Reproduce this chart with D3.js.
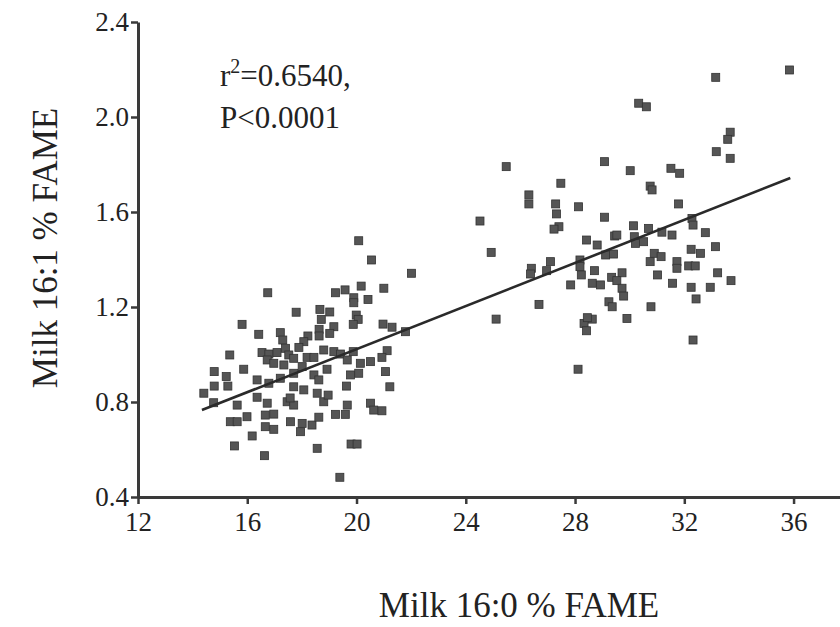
<!DOCTYPE html>
<html>
<head>
<meta charset="utf-8">
<script src="https://cdn.jsdelivr.net/npm/d3@7"></script>
<style>
  body { margin: 0; background: #fff; }
  svg { display: block; font-family: "Liberation Serif", "DejaVu Serif", serif; }
</style>
</head>
<body>
<svg id="chart"></svg>
<script>
// Milk 16:0 (% FAME) vs Milk 16:1 (% FAME)
const milk160 = [
  20.08, 20.55, 20.17, 20.42, 16.75, 19.23, 19.58, 19.90, 19.90, 17.79,
  18.66, 19.02, 18.71, 19.99, 20.06, 19.88, 15.81, 19.17, 19.02, 18.63,
  18.63, 16.42, 17.21, 17.30, 18.22, 18.07, 17.89, 17.40, 16.54, 16.79,
  17.09, 17.52, 17.70, 18.19, 18.44, 18.80, 19.17, 19.41, 19.88, 19.66,
  15.36, 16.73, 16.97, 17.34, 20.14, 20.51, 15.87, 14.79, 15.23, 14.79,
  15.29, 14.41, 14.77, 15.63, 16.36, 16.79, 17.21, 17.70, 18.01, 18.44,
  18.62, 17.70, 18.07, 18.56, 17.46, 17.70, 18.80, 16.36, 16.73, 15.99,
  15.38, 15.63, 16.66, 16.97, 16.66, 16.97, 17.58, 18.01, 18.37, 17.95,
  18.62, 19.23, 19.59, 19.66, 19.63, 18.92, 19.78, 20.08, 20.51, 20.63,
  16.18, 15.53, 16.63, 18.56, 19.80, 19.39, 20.02, 17.57, 18.96,
  25.48, 29.08, 27.48, 26.31, 26.31, 27.29, 27.32, 28.13, 29.08, 24.52,
  27.41, 27.23, 24.93, 28.42, 28.81, 29.12, 27.10, 26.40, 26.37, 26.96,
  28.18, 28.18, 28.23, 28.71, 27.84, 28.63, 28.93, 29.34, 22.01, 21.00,
  26.68, 29.24, 29.36, 25.11, 28.63, 28.33, 20.97, 21.30, 29.45, 21.79,
  28.42, 21.12, 20.93, 21.06, 21.22, 20.93, 28.11, 28.45,
  33.15, 35.85, 30.33, 30.61, 33.68, 33.59, 33.17, 33.68, 30.02, 31.51,
  31.83, 30.75, 30.82, 31.79, 30.14, 30.69, 32.28, 32.32, 29.53, 30.17,
  31.18, 31.55, 32.77, 30.21, 30.51, 33.14, 32.25, 32.59, 29.41, 30.90,
  31.15, 30.75, 31.73, 31.73, 32.16, 32.40, 33.22, 33.71, 29.72, 29.53,
  29.72, 29.78, 31.02, 31.57, 32.25, 32.95, 32.43, 30.78, 29.90, 32.32
];
const milk161 = [
  1.479, 1.398, 1.288, 1.232, 1.260, 1.260, 1.272, 1.239, 1.218, 1.178,
  1.190, 1.179, 1.148, 1.166, 1.148, 1.127, 1.127, 1.117, 1.089, 1.106,
  1.078, 1.085, 1.092, 1.061, 1.078, 1.054, 1.030, 1.026, 1.008, 1.002,
  1.008, 0.998, 0.984, 0.988, 0.988, 1.019, 1.012, 1.002, 1.012, 0.977,
  0.998, 0.977, 0.963, 0.956, 0.963, 0.970, 0.938, 0.928, 0.907, 0.867,
  0.867, 0.837, 0.797, 0.787, 0.893, 0.879, 0.900, 0.921, 0.949, 0.914,
  0.893, 0.864, 0.851, 0.837, 0.801, 0.787, 0.801, 0.820, 0.795, 0.738,
  0.717, 0.717, 0.745, 0.749, 0.696, 0.685, 0.717, 0.710, 0.703, 0.675,
  0.736, 0.748, 0.748, 0.787, 0.867, 0.938, 0.914, 0.921, 0.795, 0.766,
  0.657, 0.615, 0.574, 0.605, 0.623, 0.483, 0.623, 0.817, 0.829,
  1.791, 1.812, 1.721, 1.672, 1.634, 1.634, 1.592, 1.622, 1.578, 1.562,
  1.538, 1.528, 1.430, 1.482, 1.461, 1.419, 1.391, 1.363, 1.339, 1.353,
  1.398, 1.370, 1.335, 1.353, 1.293, 1.300, 1.293, 1.325, 1.342, 1.279,
  1.211, 1.222, 1.201, 1.149, 1.149, 1.131, 1.128, 1.115, 1.499, 1.096,
  1.100, 1.016, 0.988, 0.928, 0.864, 0.763, 0.938, 1.155,
  2.167, 2.198, 2.058, 2.043, 1.936, 1.906, 1.854, 1.826, 1.774, 1.784,
  1.763, 1.709, 1.693, 1.634, 1.542, 1.531, 1.573, 1.545, 1.503, 1.496,
  1.515, 1.503, 1.513, 1.468, 1.475, 1.454, 1.443, 1.426, 1.423, 1.426,
  1.412, 1.391, 1.391, 1.363, 1.373, 1.373, 1.344, 1.311, 1.344, 1.311,
  1.279, 1.246, 1.335, 1.300, 1.283, 1.283, 1.234, 1.201, 1.152, 1.061
];
// regression line end points
const fitX = [14.34, 35.88];
const fitY = [0.766, 1.743];

const xTicks = [12, 16, 20, 24, 28, 32, 36];
const yTicks = [0.4, 0.8, 1.2, 1.6, 2.0, 2.4];
const statText = ["r", "=0.6540,", "P<0.0001"];

const width = 840, height = 627;
const ink = "#3a3a3a";

const svg = d3.select("#chart")
  .attr("width", width)
  .attr("height", height);

const x = d3.scaleLinear().domain([12, 37.7]).range([138, 840]);
const y = d3.scaleLinear().domain([0.4, 2.4]).range([497, 22]);

const pts = milk160.map((d, i) => ({ x: d, y: milk161[i] }));

// points
svg.append("g")
  .selectAll("rect")
  .data(pts).enter()
  .append("rect")
  .attr("x", d => x(d.x) - 4)
  .attr("y", d => y(d.y) - 4)
  .attr("width", 8)
  .attr("height", 8)
  .attr("fill", "#555")
  .attr("stroke", "#333")
  .attr("stroke-width", 0.8);

// fit line
svg.append("line")
  .attr("x1", x(fitX[0])).attr("y1", y(fitY[0]))
  .attr("x2", x(fitX[1])).attr("y2", y(fitY[1]))
  .attr("stroke", "#2a2a2a")
  .attr("stroke-width", 2.6);

// axes
const xAxis = d3.axisBottom(x)
  .tickValues(xTicks)
  .tickSizeInner(7)
  .tickSizeOuter(0)
  .tickPadding(5);
const yAxis = d3.axisLeft(y)
  .tickValues(yTicks)
  .tickFormat(d3.format(".1f"))
  .tickSizeInner(7)
  .tickSizeOuter(0)
  .tickPadding(2);

const gx = svg.append("g")
  .attr("transform", `translate(0,${y(0.4)})`)
  .call(xAxis);
const gy = svg.append("g")
  .attr("transform", `translate(${x(12)},0)`)
  .call(yAxis);

[gx, gy].forEach(g => {
  g.select(".domain").attr("stroke", ink).attr("stroke-width", 3);
  g.selectAll(".tick line").attr("stroke", ink).attr("stroke-width", 2.5);
  g.selectAll(".tick text")
    .attr("fill", "#222")
    .style("font-family", "'Liberation Serif', serif")
    .style("font-size", "27px");
});
gx.selectAll(".tick text").attr("dy", "0.8em");

// axis titles
svg.append("text")
  .attr("x", 519)
  .attr("y", 617)
  .attr("text-anchor", "middle")
  .attr("fill", "#222")
  .style("font-size", "35px")
  .text("Milk 16:0 % FAME");

svg.append("text")
  .attr("transform", `translate(57,248) rotate(-90)`)
  .attr("text-anchor", "middle")
  .attr("fill", "#222")
  .style("font-size", "35px")
  .text("Milk 16:1 % FAME");

// stats annotation
const ann = svg.append("text")
  .attr("x", 220)
  .attr("y", 86)
  .attr("fill", "#222")
  .style("font-size", "31px");
ann.append("tspan").text(statText[0]);
ann.append("tspan").attr("dy", -13).style("font-size", "20px").text("2");
ann.append("tspan").attr("dy", 13).text(statText[1]);

svg.append("text")
  .attr("x", 220)
  .attr("y", 128)
  .attr("fill", "#222")
  .style("font-size", "31px")
  .text(statText[2]);
</script>
</body>
</html>
